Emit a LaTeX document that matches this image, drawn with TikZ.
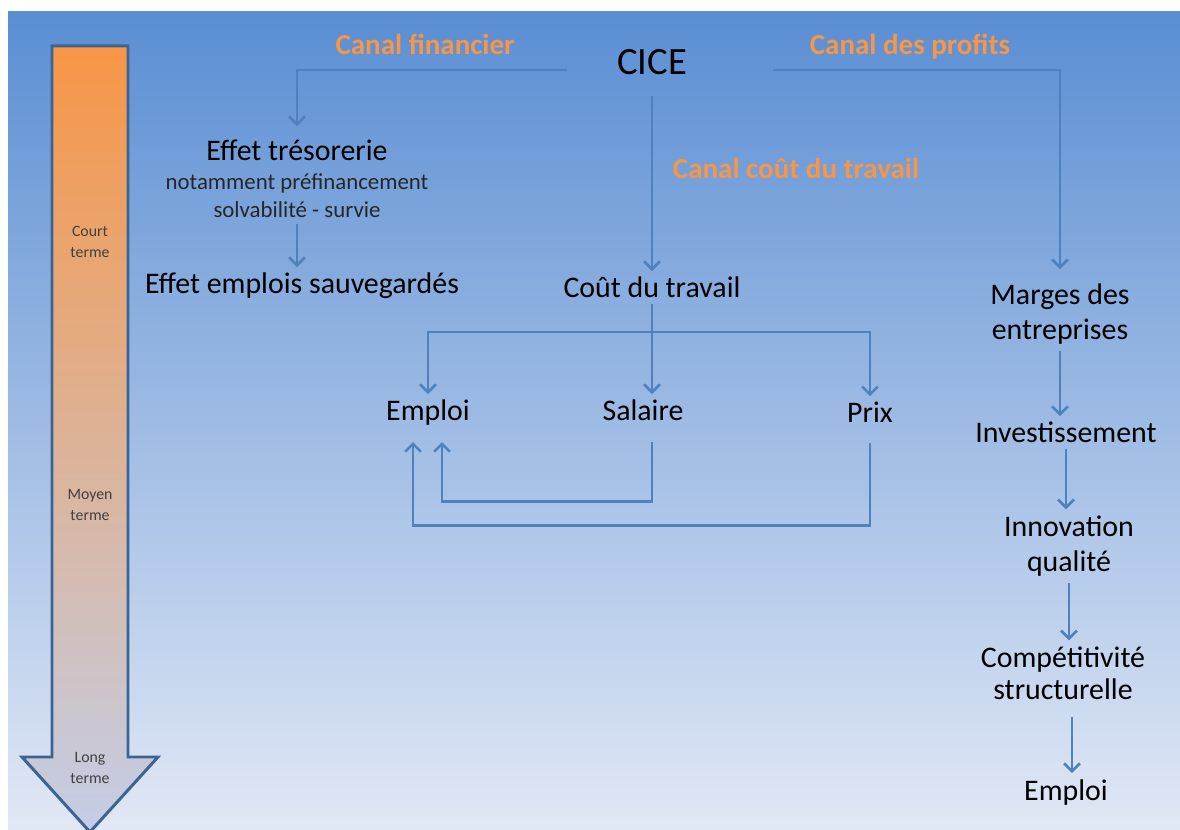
\documentclass[tikz,border=0pt]{standalone}
\usepackage{fontspec}
\setmainfont{Carlito}
\usetikzlibrary{arrows.meta}
\definecolor{bgtop}{HTML}{5A8ED3}
\definecolor{bgbot}{HTML}{E1E8F5}
\definecolor{canal}{HTML}{F79646}
\definecolor{flow}{HTML}{4F81BD}
\definecolor{termeborder}{HTML}{3B6493}
\definecolor{termebot}{HTML}{C3CEE6}

\begin{document}
\begin{tikzpicture}[x=0.02cm, y=-0.02cm,
  my text/.style={anchor=base, align=center, text=black,
    font=\fontsize{17}{20.4}\selectfont},
  my note/.style={anchor=base, align=center, text=black!85,
    font=\fontsize{13}{16}\selectfont},
  my canal/.style={anchor=base, text=canal,
    font=\fontsize{16.5}{20}\selectfont\bfseries},
  my terme/.style={align=center, text=black!75,
    font=\fontsize{9}{11.5}\selectfont},
  my flow/.style={draw=flow, line width=1.5pt,
    -{Straight Barb[length=4.5pt,width=9pt]}},
  ]
  \useasboundingbox (0,0) rectangle (1180,830);
  \shade[top color=bgtop, bottom color=bgbot] (8,12) rectangle (1180,830);
  % time arrow
  \shadedraw[top color=canal, bottom color=termebot, draw=termeborder, line width=1.7pt]
    (52,46) -- (128,46) -- (128,757) -- (158,757) -- (90,832) -- (22,757) -- (52,757) -- cycle;
  \node[my terme] (court) at (90,242) {Court\\terme};
  \node[my terme] (moyen) at (90,505) {Moyen\\terme};
  \node[my terme] (long) at (90,768) {Long\\terme};

  \node[my text, font=\fontsize{22}{26}\selectfont] (cice) at (652,75) {CICE};
  \node[my canal] (canal fin) at (425,55) {Canal financier};
  \node[my canal] (canal prof) at (910,55) {Canal des profits};
  \node[my canal] (canal trav) at (796,179) {Canal coût du travail};

  % anchor=base sits on the last line
  \node[my text] (treso) at (297,161) {Effet trésorerie};
  \node[my note] (treso note) at (297,218) {notamment préfinancement\\solvabilité - survie};
  \node[my text] (sauve) at (302,294) {Effet emplois sauvegardés};

  \node[my text] (cout) at (652,298) {Coût du travail};
  \node[my text] (emp) at (428,421) {Emploi};
  \node[my text] (sal) at (643,421) {Salaire};
  \node[my text] (prix) at (870,423) {Prix};

  \node[my text] (marges) at (1060,340) {Marges des\\entreprises};
  \node[my text] (invest) at (1066,443) {Investissement};
  \node[my text] (innov) at (1069,572) {Innovation\\qualité};
  \node[my text, font=\fontsize{17}{18.7}\selectfont] (compet) at (1063,700) {Compétitivité\\structurelle};
  \node[my text] (emploi) at (1066,800) {Emploi};

  \coordinate (fin L) at (567,70);
  \coordinate (prof R) at (773,70);
  \coordinate (split) at (652,332);
  \draw[my flow, shorten >=0.16cm] (fin L) -| (treso.north);
  \draw[my flow, shorten >=0.16cm] (prof R) -| (marges.north);
  \draw[my flow, shorten <=0.3cm] (cice.south) -- (cout.north);
  \draw[my flow] (treso note.south) -- (treso note.south |- sauve.north);

  \draw[my flow] (cout.south) -- (cout.south |- sal.north);
  \draw[my flow] (split) -| (emp.north);
  \draw[my flow] (split) -| (prix.north);
  \draw[my flow, shorten <=0.3cm, shorten >=0.2cm] (cout.south |- sal.south) -- ++(0,74) -| ([xshift=0.28cm]emp.south);
  \draw[my flow, shorten <=0.28cm, shorten >=0.2cm] (prix.south) -- ++(0,96) -| ([xshift=-0.3cm]emp.south);

  \draw[my flow] (marges.south) -- (marges.south |- invest.north);
  \draw[my flow] (invest.south) -- (invest.south |- innov.north);
  \draw[my flow] (innov.south) -- (innov.south |- compet.north);
  \draw[my flow, shorten <=0.22cm] ([xshift=0.18cm]compet.south) -- ([xshift=0.18cm]compet.south |- emploi.north);
\end{tikzpicture}
\end{document}
